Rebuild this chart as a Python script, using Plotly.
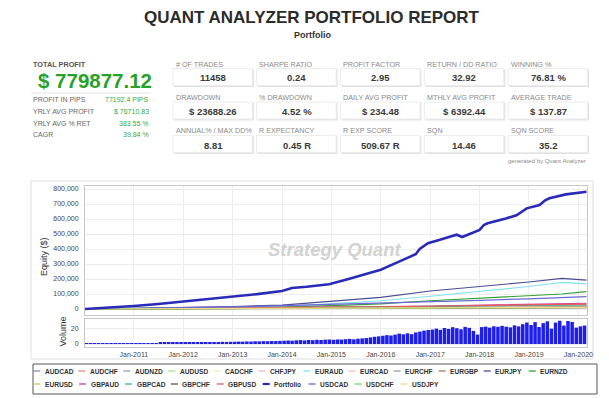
import plotly.graph_objects as go

W, H = 609, 398
def px(x): return x / W
def py(y): return 1 - y / H

FONT = "Liberation Sans, Arial, sans-serif"

# ---------------- header data ----------------
report_title = "QUANT ANALYZER PORTFOLIO REPORT"
report_subtitle = "Portfolio"
total_profit_label = "TOTAL PROFIT"
total_profit_value = "$ 779877.12"
side_labels = ["PROFIT IN PIPS", "YRLY AVG PROFIT", "YRLY AVG % RET", "CAGR"]
side_values = ["77192.4 PIPS", "$ 76710.83", "383.55 %", "39.84 %"]
stat_labels = [
    ["# OF TRADES", "SHARPE RATIO", "PROFIT FACTOR", "RETURN / DD RATIO", "WINNING %"],
    ["DRAWDOWN", "% DRAWDOWN", "DAILY AVG PROFIT", "MTHLY AVG PROFIT", "AVERAGE TRADE"],
    ["ANNUAL% / MAX DD%", "R EXPECTANCY", "R EXP SCORE", "SQN", "SQN SCORE"],
]
stat_values = [
    ["11458", "0.24", "2.95", "32.92", "76.81 %"],
    ["$ 23688.26", "4.52 %", "$ 234.48", "$ 6392.44", "$ 137.87"],
    ["8.81", "0.45 R", "509.67 R", "14.46", "35.2"],
]

# ---------------- equity data ----------------
portfolio_dates = [
    "2010-01-01", "2010-07-01", "2011-01-01", "2011-07-01", "2012-01-01", "2012-07-01",
    "2013-01-01", "2013-07-01", "2014-01-01", "2014-03-15", "2014-07-01", "2014-12-15",
    "2015-05-01", "2015-09-01", "2016-01-01", "2016-05-15", "2016-09-15", "2016-10-15",
    "2016-12-15", "2017-03-01", "2017-05-20", "2017-07-15", "2017-08-25", "2017-10-15",
    "2018-01-01", "2018-02-01", "2018-03-01", "2018-07-15", "2018-10-01", "2018-12-15",
    "2019-03-20", "2019-05-01", "2019-06-01", "2019-10-01", "2019-12-15", "2020-03-01",
]
portfolio_values = [
    0, 8000, 20000, 33000, 49000, 64000,
    81000, 99000, 120000, 140000, 148000, 165000,
    198000, 230000, 262000, 316000, 365000, 400000,
    438000, 458000, 482000, 495000, 480000, 500000,
    527000, 560000, 571000, 604000, 625000, 671000,
    693000, 725000, 738000, 764000, 772000, 782000,
]

symbol_dates = ["2010-01-01", "2011-01-01", "2012-01-01", "2013-01-01", "2014-01-01",
                "2015-01-01", "2016-01-01", "2017-01-01", "2018-01-01", "2019-01-01",
                "2019-09-01", "2020-03-01"]

AUDCAD = [0, 1500, 2800, 4200, 5600, 7400, 9300, 11000, 12600, 14800, 16200, 17000]
AUDCHF = [0, 1200, 2600, 4100, 6300, 8600, 11800, 14500, 17200, 19600, 21000, 22400]
AUDNZD = [0, 1800, 3300, 4600, 6200, 7900, 9600, 11300, 12500, 13800, 14600, 15200]
AUDUSD = [0, 900, 2100, 3200, 4700, 6600, 8800, 10900, 12700, 14600, 16300, 17100]
CADCHF = [0, 400, 1100, 1800, 2700, 3600, 4800, 5900, 6700, 7800, 8600, 9100]
CHFJPY = [0, 1100, 2300, 3800, 5700, 7900, 10400, 12800, 15600, 18100, 19800, 21200]
EURAUD = [0, 2000, 5000, 9000, 16000, 35000, 55000, 85000, 115000, 150000, 178000, 167000]
EURCAD = [0, 700, 1900, 3100, 4300, 5800, 7700, 9600, 11800, 12900, 13600, 14300]
EURCHF = [0, 600, 1200, 1900, 2600, 3100, 3900, 4700, 5300, 6100, 6600, 7000]
EURGBP = [0, 800, 1700, 2600, 3500, 4700, 5900, 7200, 8400, 9800, 10900, 11800]
EURJPY = [0, 4000, 9000, 16000, 26000, 50000, 78000, 120000, 149000, 180000, 204000, 193000]
EURNZD = [0, 2000, 4000, 7000, 12000, 22000, 34000, 55000, 72000, 88000, 100000, 116000]
EURUSD = [0, 700, 1500, 2400, 3300, 4500, 5600, 6800, 7700, 8900, 9600, 10200]
GBPAUD = [0, 2100, 4300, 6700, 9400, 12600, 15800, 20100, 24700, 29300, 34100, 38200]
GBPCAD = [0, 1300, 3100, 5200, 7600, 10800, 13900, 17200, 20300, 23800, 25900, 27400]
GBPCHF = [0, 900, 1800, 2900, 3800, 4900, 6100, 7300, 8600, 9700, 10400, 11100]
GBPUSD = [0, 1600, 3400, 5600, 8100, 11300, 14600, 18400, 22300, 26500, 30200, 32800]
USDCAD = [0, 4000, 9000, 14000, 22000, 30000, 38000, 47000, 58000, 68000, 76000, 82000]
USDCHF = [0, 800, 1700, 2600, 3700, 4800, 5900, 6900, 7900, 8800, 9500, 10100]
USDJPY = [0, 600, 1400, 2300, 3200, 4100, 5200, 6300, 7400, 8600, 9900, 11300]

legend_names = ["AUDCAD", "AUDCHF", "AUDNZD", "AUDUSD", "CADCHF", "CHFJPY", "EURAUD",
                "EURCAD", "EURCHF", "EURGBP", "EURJPY", "EURNZD", "EURUSD", "GBPAUD",
                "GBPCAD", "GBPCHF", "GBPUSD", "Portfolio", "USDCAD", "USDCHF", "USDJPY"]
symbol_series = {
    "AUDCAD": AUDCAD, "AUDCHF": AUDCHF, "AUDNZD": AUDNZD, "AUDUSD": AUDUSD,
    "CADCHF": CADCHF, "CHFJPY": CHFJPY, "EURAUD": EURAUD, "EURCAD": EURCAD,
    "EURCHF": EURCHF, "EURGBP": EURGBP, "EURJPY": EURJPY, "EURNZD": EURNZD,
    "EURUSD": EURUSD, "GBPAUD": GBPAUD, "GBPCAD": GBPCAD, "GBPCHF": GBPCHF,
    "GBPUSD": GBPUSD, "USDCAD": USDCAD, "USDCHF": USDCHF, "USDJPY": USDJPY,
}
colors = {
    "AUDCAD": "#8c8cb4", "AUDCHF": "#e8848c", "AUDNZD": "#8ea0b8", "AUDUSD": "#9ee09e",
    "CADCHF": "#eeeebb", "CHFJPY": "#f0b4b8", "EURAUD": "#86e2ea", "EURCAD": "#f0c4cc",
    "EURCHF": "#9a9a9a", "EURGBP": "#a87850", "EURJPY": "#4c4c94", "EURNZD": "#33a033",
    "EURUSD": "#c8c850", "GBPAUD": "#c8409c", "GBPCAD": "#30b8a8", "GBPCHF": "#555555",
    "GBPUSD": "#ee5a5a", "Portfolio": "#2a2ab8", "USDCAD": "#6a6ad8", "USDCHF": "#66dd66",
    "USDJPY": "#f0dc88",
}

# ---------------- volume data (monthly) ----------------
vol_years = [2010, 2011, 2012, 2013, 2014, 2015, 2016, 2017, 2018, 2019, 2020]
vol_2010 = [0.3, 0.4, 0.4, 0.5, 0.5, 0.6, 0.6, 0.7, 0.7, 0.8, 0.8, 0.9]
vol_2011 = [1.0, 1.0, 1.1, 1.2, 1.2, 1.3, 1.4, 1.4, 1.5, 1.6, 1.6, 1.7]
vol_2012 = [1.8, 2.0, 2.1, 2.3, 2.2, 2.4, 2.6, 2.5, 2.7, 2.9, 2.8, 3.0]
vol_2013 = [3.0, 3.2, 3.1, 3.4, 3.3, 3.6, 3.5, 3.8, 3.7, 4.0, 3.9, 4.2]
vol_2014 = [4.3, 4.6, 4.4, 4.9, 5.2, 4.8, 5.4, 5.1, 5.6, 5.3, 5.8, 6.0]
vol_2015 = [5.6, 6.1, 5.9, 6.4, 6.8, 6.2, 7.0, 7.5, 7.9, 8.8, 9.6, 10.2]
vol_2016 = [11.0, 11.8, 11.3, 12.5, 13.8, 12.9, 14.2, 13.1, 15.4, 16.5, 17.8, 18.6]
vol_2017 = [19.2, 20.5, 18.8, 21.3, 20.1, 22.4, 21.0, 19.6, 22.8, 21.5, 17.4, 12.6]
vol_2018 = [22.5, 23.1, 21.8, 23.6, 22.9, 24.2, 23.0, 22.2, 24.8, 23.5, 26.4, 28.6]
vol_2019 = [25.3, 29.1, 22.6, 27.8, 30.2, 20.4, 28.5, 31.0, 24.6, 30.6, 29.4, 21.8]
vol_2020 = [23.5, 24.6]
vol_by_year = [vol_2010, vol_2011, vol_2012, vol_2013, vol_2014, vol_2015,
               vol_2016, vol_2017, vol_2018, vol_2019, vol_2020]
vol_dates, vol_values = [], []
for yr, vals in zip(vol_years, vol_by_year):
    for m, v in enumerate(vals):
        vol_dates.append(f"{yr}-{m + 1:02d}-01")
        vol_values.append(v)

# ---------------- figure ----------------
fig = go.Figure()
for name in legend_names:
    if name == "Portfolio":
        continue
    fig.add_trace(go.Scatter(x=symbol_dates, y=symbol_series[name], mode="lines", name=name,
                             line=dict(color=colors[name], width=1.2),
                             xaxis="x", yaxis="y"))
fig.add_trace(go.Scatter(x=portfolio_dates, y=portfolio_values, mode="lines", name="Portfolio",
                         line=dict(color=colors["Portfolio"], width=2.6),
                         xaxis="x", yaxis="y"))
fig.add_trace(go.Bar(x=vol_dates, y=vol_values, name="Volume", xperiod="M1",
                     xperiodalignment="middle",
                     marker=dict(color="#1e1ee6", line=dict(width=0)),
                     xaxis="x2", yaxis="y2"))

axis_common = dict(showline=True, mirror=True, linecolor="#c8c8c8", linewidth=1,
                   gridcolor="#ededed", zeroline=False, ticks="", automargin=False,
                   tickfont=dict(family=FONT, size=7, color="#444"))
xr = ["2010-01-05", "2020-03-05"]
fig.update_layout(
    width=W, height=H, autosize=False,
    margin=dict(l=0, r=0, t=0, b=0, pad=0, autoexpand=False),
    paper_bgcolor="white", plot_bgcolor="white", showlegend=False,
    bargap=0.12,
    xaxis=dict(domain=[px(85), px(587)], range=xr, anchor="y", type="date",
               showticklabels=False, dtick="M12", tick0="2011-01-01", **axis_common),
    yaxis=dict(domain=[py(315), py(186)], range=[-40000, 820000], anchor="x",
               dtick=100000, tickformat=",d", ticklabelstandoff=4, **axis_common),
    xaxis2=dict(domain=[px(85), px(587)], range=xr, anchor="y2", type="date",
                matches="x", dtick="M12", tick0="2011-01-01", tickformat="%b-%Y",
                ticklabelstandoff=1, **axis_common),
    yaxis2=dict(domain=[py(347), py(319)], range=[-4, 33.3], anchor="x2",
                tickvals=[0, 20], ticklabelstandoff=4, **axis_common),
)

ann = []
shapes = []

def text(x, y, s, size, color="#333", bold=False, xanchor="left", italic=False, angle=0):
    t = s
    if bold:
        t = f"<b>{t}</b>"
    if italic:
        t = f"<i>{t}</i>"
    ann.append(dict(x=px(x), y=py(y), xref="paper", yref="paper", text=t, showarrow=False,
                    xanchor=xanchor, yanchor="middle", textangle=angle,
                    font=dict(family=FONT, size=size, color=color)))

# title
text(312, 18, report_title, 17, "#2b2b2b", bold=True, xanchor="center")
text(312, 35, report_subtitle, 9, "#333", bold=True, xanchor="center")

# left panel
text(31, 64, total_profit_label, 7.3, "#555", bold=True)
text(36, 80, total_profit_value, 20.5, "#27a127", bold=True)
shapes.append(dict(type="line", xref="paper", yref="paper", x0=px(31), x1=px(151),
                   y0=py(93), y1=py(93), line=dict(color="#e4e4e4", width=1)))
for i, (lab, val) in enumerate(zip(side_labels, side_values)):
    yy = 100 + i * 11.6
    text(30.5, yy, lab, 7, "#666")
    text(151, yy, val, 7, "#3aa83a", xanchor="right")

# stat grid
col_x = [173, 256.7, 340.5, 424.3, 508]
row_y = [64, 97.5, 131]
for r in range(3):
    for c in range(5):
        x0 = col_x[c]
        y0 = row_y[r]
        shapes.append(dict(type="rect", xref="paper", yref="paper",
                           x0=px(x0 + 1), x1=px(x0 + 81), y0=py(y0 + 5), y1=py(y0 + 23),
                           fillcolor="#e2e2e2", line=dict(width=0), layer="below"))
        shapes.append(dict(type="rect", xref="paper", yref="paper",
                           x0=px(x0), x1=px(x0 + 79.5), y0=py(y0 + 4.5), y1=py(y0 + 21.5),
                           fillcolor="white", line=dict(color="#ececec", width=1), layer="below"))
        text(x0 + 0.5, y0, stat_labels[r][c], 7.2, "#8a8a8a")
        text(x0 + 40, y0 + 14, stat_values[r][c], 9.5, "#3a3a3a", bold=True, xanchor="center")

text(588, 161, "generated by Quant Analyzer", 6, "#8a8a8a", xanchor="right")

# chart container
shapes.append(dict(type="rect", xref="paper", yref="paper", x0=px(31), x1=px(593),
                   y0=py(359), y1=py(181), line=dict(color="#dedede", width=1), layer="below"))

# watermark
text(334, 249, "Strategy Quant", 18.5, "#d2d2d2", bold=True, italic=True, xanchor="center")

# axis titles
text(44, 257, "Equity ($)", 9, "#333", xanchor="center", angle=-90)
text(62.5, 332, "Volume", 9, "#333", xanchor="center", angle=-90)

# legend (manual, compact)
shapes.append(dict(type="rect", xref="paper", yref="paper", x0=px(33), x1=px(597),
                   y0=py(394), y1=py(364), line=dict(color="#555", width=1)))
row_spacing = [45.05, 45.9]
for i, name in enumerate(legend_names):
    row, col = divmod(i, 12)
    tx = 42.7 + row_spacing[row] * col
    ty = 371 + row * 13
    lw = 2.2 if name == "Portfolio" else 1.3
    shapes.append(dict(type="line", xref="paper", yref="paper", x0=px(tx - 9.5), x1=px(tx - 2.5),
                       y0=py(ty), y1=py(ty), line=dict(color=colors[name], width=lw)))
    text(tx, ty, name, 6.6, "#333", bold=True)

fig.update_layout(annotations=ann, shapes=shapes)
fig.write_html(
    "out.html",
    config={"responsive": False, "displayModeBar": False},
    post_script="document.body.style.margin='0px';document.body.style.overflow='hidden';",
)
